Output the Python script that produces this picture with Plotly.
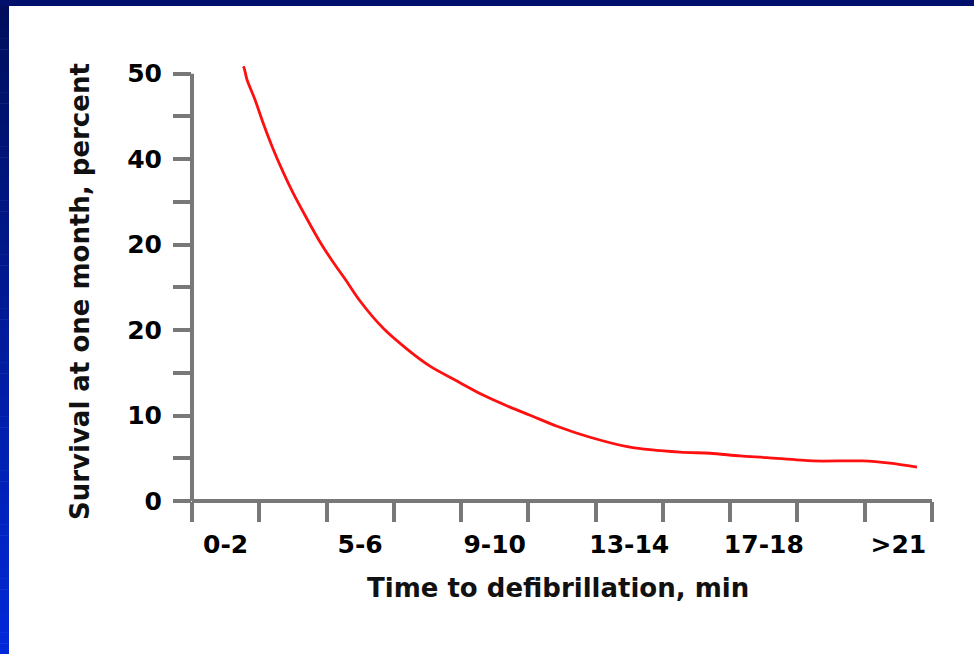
import plotly.graph_objects as go

# ---------------- data ----------------
categories = ["0-2", "3-4", "5-6", "7-8", "9-10", "11-12", "13-14",
              "15-16", "17-18", "19-20", ">21"]
shown_labels = ["0-2", "", "5-6", "", "9-10", "", "13-14", "", "17-18", "", ">21"]

# survival curve (x in category units from the left axis)
curve_x = [0.760, 0.773, 0.818, 0.937, 1.056, 1.204, 1.353, 1.502, 1.710, 1.903,
           2.096, 2.275, 2.498, 2.839, 3.196, 3.538, 3.939, 4.326, 4.727,
           5.025, 5.426, 5.917, 6.511, 7.254, 7.700, 8.146, 8.547, 9.231,
           9.974, 10.376, 10.777]
curve_y = [50.85, 50.70, 49.29, 46.95, 44.25, 41.21, 38.51, 36.05, 33.00, 30.31,
           27.97, 25.98, 23.40, 20.24, 17.78, 15.78, 14.03, 12.39, 10.98,
           10.04, 8.75, 7.46, 6.29, 5.71, 5.59, 5.27, 5.08, 4.69,
           4.69, 4.42, 3.95]

y_tickvals = [0, 10, 20, 30, 40, 50]
y_ticktext = ["0", "10", "20", "20", "40", "50"]
y_minor = [5, 15, 25, 35, 45]

x_title = "Time to defibrillation, min"
y_title = "Survival at one month, percent"

# ---------------- layout geometry ----------------
WIDTH, HEIGHT = 974, 654
L, R, T, B = 192, 932, 66, 501
W, H = R - L, B - T


def px(x):
    return (x - L) / W


def py(y):
    return (B - y) / H


AXIS = "#787878"
FONT = "DejaVu Sans"

n_cat = len(categories)
x_centers = [i + 0.5 for i in range(n_cat)]
x_bounds = list(range(n_cat + 1))

fig = go.Figure()
fig.add_trace(go.Scatter(
    x=curve_x, y=curve_y, mode="lines",
    line=dict(color="#ff1010", width=2.8, shape="spline", smoothing=0.8),
    hoverinfo="skip", showlegend=False,
))

shapes = []
# decorative frame: top navy strip and left gradient strip
shapes.append(dict(type="rect", xref="paper", yref="paper",
                   x0=px(0), x1=px(WIDTH), y0=py(0), y1=py(6),
                   fillcolor="#00106c", line=dict(width=0), layer="below"))
N = 60
c0 = (0, 14, 92)
c1 = (0, 40, 216)
for i in range(N):
    t = i / (N - 1)
    col = tuple(round(a + (b - a) * t) for a, b in zip(c0, c1))
    y_top = 6 + (HEIGHT - 6) * i / N
    y_bot = 6 + (HEIGHT - 6) * (i + 1) / N + 0.5
    shapes.append(dict(type="rect", xref="paper", yref="paper",
                       x0=px(0), x1=px(9), y0=py(y_bot), y1=py(y_top),
                       fillcolor="rgb(%d,%d,%d)" % col, line=dict(width=0),
                       layer="below"))
# axis lines
shapes.append(dict(type="line", xref="paper", yref="y", x0=0, x1=0,
                   y0=0, y1=50, line=dict(color=AXIS, width=4)))
shapes.append(dict(type="line", xref="x", yref="paper", x0=0, x1=n_cat,
                   y0=0, y1=0, line=dict(color=AXIS, width=4)))

fig.update_layout(
    width=WIDTH, height=HEIGHT,
    margin=dict(l=L, r=WIDTH - R, t=T, b=HEIGHT - B, pad=0),
    paper_bgcolor="white", plot_bgcolor="white",
    showlegend=False,
    shapes=shapes,
    xaxis=dict(
        range=[0, n_cat], showgrid=False, zeroline=False, showline=False,
        tickmode="array", tickvals=x_centers, ticktext=shown_labels,
        ticks="", ticklabelstandoff=26,
        tickfont=dict(family=FONT, size=25, color="black", weight="bold"),
        minor=dict(tickmode="array", tickvals=x_bounds, ticks="outside",
                   ticklen=20, tickwidth=4, tickcolor=AXIS, showgrid=False),
        fixedrange=True,
    ),
    yaxis=dict(
        range=[0, 50.9], showgrid=False, zeroline=False, showline=False,
        tickmode="array", tickvals=y_tickvals, ticktext=y_ticktext,
        ticks="outside", ticklen=18, tickwidth=4, tickcolor=AXIS,
        ticklabelstandoff=6,
        tickfont=dict(family=FONT, size=25, color="black", weight="bold"),
        minor=dict(tickmode="array", tickvals=y_minor, ticks="outside",
                   ticklen=18, tickwidth=4, tickcolor=AXIS, showgrid=False),
        fixedrange=True,
    ),
    annotations=[
        dict(text=x_title, xref="paper", yref="paper", x=px(558), y=py(588),
             xanchor="center", yanchor="middle", showarrow=False,
             font=dict(family=FONT, size=26, color="#111111", weight="bold")),
        dict(text=y_title, xref="paper", yref="paper", x=px(80), y=py(292),
             xanchor="center", yanchor="middle", showarrow=False, textangle=-90,
             font=dict(family=FONT, size=26, color="#111111", weight="bold")),
    ],
)

fig.write_html("out.html")
